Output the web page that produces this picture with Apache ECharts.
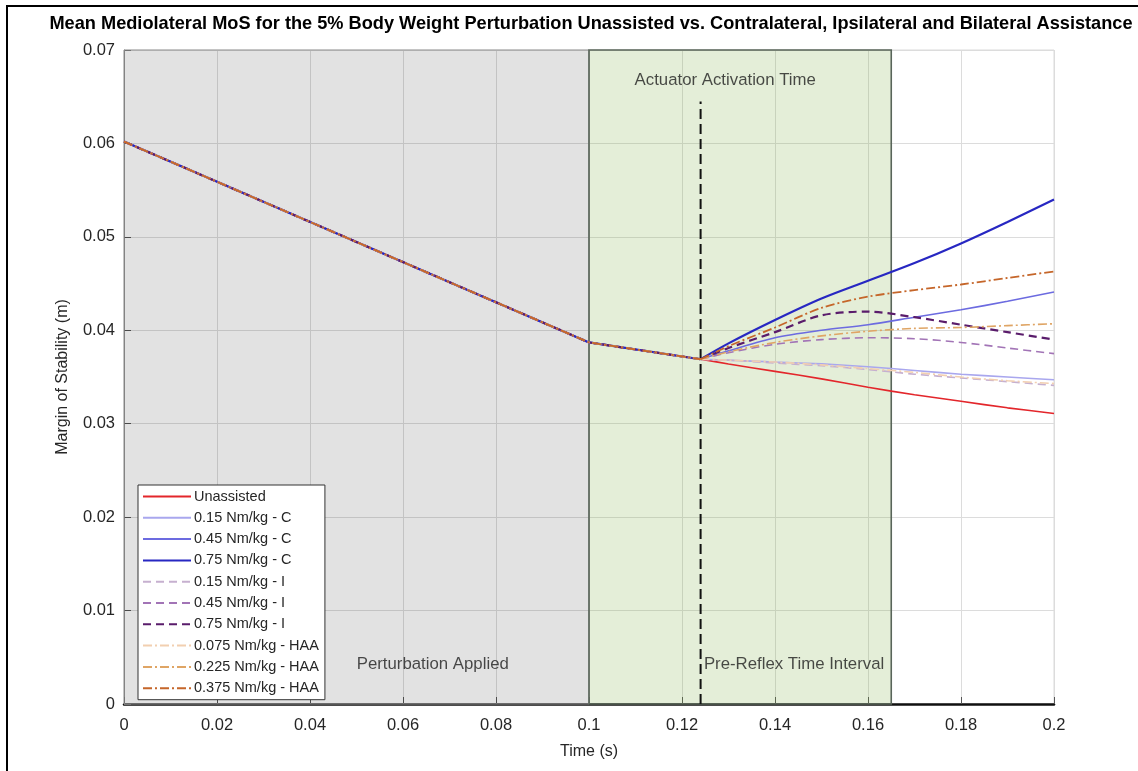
<!DOCTYPE html>
<html>
<head>
<meta charset="utf-8">
<title>Mean Mediolateral MoS</title>
<script src="https://cdn.jsdelivr.net/npm/echarts@6/dist/echarts.min.js"></script>
<style>
  html, body { margin: 0; padding: 0; background: #fff; }
  #chart { width: 1138px; height: 771px; }
</style>
</head>
<body>
<div id="chart"></div>
<script>
// Shared trajectory before the actuator switches on (s, m)
const timePrefix = [0, 0.1, 0.124];
const prefixValues = [0.0602, 0.0387, 0.0369];

// Time samples after actuator activation (s)
const timeTail = [0.124, 0.13, 0.14, 0.15, 0.16, 0.17, 0.18, 0.19, 0.2];

// Margin of stability (m) after activation, per condition
const unassisted = [0.0369, 0.0364, 0.0356, 0.0348, 0.0339, 0.0331, 0.0324, 0.0317, 0.0311];
const c015 = [0.0369, 0.0368, 0.0366, 0.0364, 0.0361, 0.0357, 0.0353, 0.0350, 0.0347];
const c045 = [0.0369, 0.0378, 0.0392, 0.0400, 0.0406, 0.0414, 0.0422, 0.0431, 0.0441];
const c075 = [0.0369, 0.0386, 0.0411, 0.0434, 0.0453, 0.0472, 0.0493, 0.0516, 0.0540];
const i015 = [0.0369, 0.0368, 0.0365, 0.0362, 0.0358, 0.0353, 0.0349, 0.0345, 0.0341];
const i045 = [0.0369, 0.0376, 0.0385, 0.0390, 0.0392, 0.0391, 0.0387, 0.0381, 0.0375];
const i075 = [0.0369, 0.0381, 0.0398, 0.0416, 0.0420, 0.0414, 0.0406, 0.0398, 0.0390];
const haa0075 = [0.0369, 0.0368, 0.0366, 0.0363, 0.0359, 0.0355, 0.0350, 0.0346, 0.0343];
const haa0225 = [0.0369, 0.0377, 0.0387, 0.0394, 0.0399, 0.0402, 0.0403, 0.0405, 0.0407];
const haa0375 = [0.0369, 0.0383, 0.0403, 0.0424, 0.0436, 0.0443, 0.0449, 0.0456, 0.0463];

// Shaded phases (s)
const perturbationPhase = [0, 0.1];
const preReflexPhase = [0.1, 0.165];
const activationTime = 0.124;

// Axis tick setup
const xTicks = { min: 0, max: 0.2, step: 0.02 };
const yTicks = { min: 0, max: 0.07, step: 0.01 };

const dashDot = [9, 3, 2, 3];
const conditions = [
  { name: 'Unassisted',          values: unassisted, color: '#e3262b', type: 'solid',  width: 1.6 },
  { name: '0.15 Nm/kg - C',      values: c015,       color: '#a9a7ee', type: 'solid',  width: 1.6 },
  { name: '0.45 Nm/kg - C',      values: c045,       color: '#6c6be0', type: 'solid',  width: 1.6 },
  { name: '0.75 Nm/kg - C',      values: c075,       color: '#2727c2', type: 'solid',  width: 2.2 },
  { name: '0.15 Nm/kg - I',      values: i015,       color: '#c6b0cf', type: [8, 5],   width: 1.6 },
  { name: '0.45 Nm/kg - I',      values: i045,       color: '#a274b6', type: [8, 5],   width: 1.6 },
  { name: '0.75 Nm/kg - I',      values: i075,       color: '#5a1c6b', type: [8, 5],   width: 2.2 },
  { name: '0.075 Nm/kg - HAA',   values: haa0075,    color: '#f2cfb0', type: dashDot,  width: 1.6 },
  { name: '0.225 Nm/kg - HAA',   values: haa0225,    color: '#dfa565', type: dashDot,  width: 1.6 },
  { name: '0.375 Nm/kg - HAA',   values: haa0375,    color: '#c5662a', type: dashDot,  width: 1.8 }
];

const pairs = (xs, ys) => xs.map((x, i) => [x, ys[i]]);
const font = 'Liberation Sans, Arial, sans-serif';

const series = [];

// Background phases and the activation marker
series.push({
  type: 'line',
  name: 'phases',
  data: [],
  silent: true,
  markArea: {
    silent: true,
    data: [
      [{ xAxis: perturbationPhase[0], yAxis: yTicks.min,
         itemStyle: { color: 'rgba(0,0,0,0.115)', borderColor: '#9a9a9a', borderWidth: 1 } },
       { xAxis: perturbationPhase[1], yAxis: yTicks.max }],
      [{ xAxis: preReflexPhase[0], yAxis: yTicks.min,
         itemStyle: { color: 'rgba(118,170,60,0.20)', borderColor: '#59655a', borderWidth: 1.6 } },
       { xAxis: preReflexPhase[1], yAxis: yTicks.max }]
    ]
  },
  z: 1
});

series.push({
  type: 'line',
  name: 'activation',
  data: [[activationTime, 0], [activationTime, 0.0645]],
  symbol: 'none',
  silent: true,
  lineStyle: { color: '#111', width: 2, type: [10, 5] },
  z: 3
});

conditions.forEach(c => {
  series.push({
    type: 'line',
    name: c.name,
    data: pairs(timePrefix, prefixValues),
    symbol: 'none',
    smooth: false,
    lineStyle: { color: c.color, width: c.width, type: c.type },
    itemStyle: { color: c.color },
    z: 4
  });
  series.push({
    type: 'line',
    name: c.name,
    data: pairs(timeTail, c.values),
    symbol: 'none',
    smooth: 0.3,
    lineStyle: { color: c.color, width: c.width, type: c.type },
    itemStyle: { color: c.color },
    z: 4
  });
});

// Phase captions
const captions = [
  [0.0664, 0.0042, 'Perturbation Applied'],
  [0.1441, 0.0042, 'Pre-Reflex Time Interval'],
  [0.1293, 0.0667, 'Actuator Activation Time']
];
series.push({
  type: 'scatter',
  name: 'captions',
  data: captions,
  symbolSize: 0,
  silent: true,
  label: {
    show: true,
    position: 'inside',
    formatter: p => p.data[2],
    color: '#1e1e1e',
    fontSize: 16.8,
    fontFamily: font
  },
  z: 5
});

const chart = echarts.init(document.getElementById('chart'));
chart.setOption({
  animation: false,
  backgroundColor: '#fff',
  title: {
    text: 'Mean Mediolateral MoS for the 5% Body Weight Perturbation Unassisted vs. Contralateral, Ipsilateral and Bilateral Assistance',
    left: 586,
    textAlign: 'center',
    top: 10,
    textStyle: { fontSize: 18.2, fontWeight: 'bold', color: '#000', fontFamily: font }
  },
  grid: {
    left: 124, right: 84, top: 50, bottom: 67,
    show: true, borderColor: '#dadada', borderWidth: 1, backgroundColor: 'transparent'
  },
  legend: {
    data: conditions.map(c => c.name),
    orient: 'vertical',
    left: 138,
    top: 485,
    itemWidth: 48,
    itemHeight: 14,
    itemGap: 6.3,
    padding: [4, 6, 4, 4],
    backgroundColor: '#fff',
    borderColor: '#333',
    borderWidth: 1,
    borderRadius: 0,
    itemStyle: { opacity: 0 },
    textStyle: { fontSize: 14.5, color: '#262626', fontFamily: font, padding: [0, 0, 0, -2] }
  },
  xAxis: {
    type: 'value',
    min: xTicks.min,
    max: xTicks.max,
    interval: xTicks.step,
    name: 'Time (s)',
    nameLocation: 'middle',
    nameGap: 40,
    nameTextStyle: { fontSize: 16, color: '#262626', fontFamily: font },
    axisLine: { lineStyle: { color: '#111', width: 2.5 } },
    axisTick: { inside: true, length: 7, lineStyle: { color: '#555' } },
    axisLabel: {
      fontSize: 16.5, color: '#262626', fontFamily: font, margin: 13,
      formatter: v => String(+v.toFixed(2))
    },
    splitLine: { show: true, lineStyle: { color: '#dcdcdc', width: 1 } }
  },
  yAxis: {
    type: 'value',
    min: yTicks.min,
    max: yTicks.max,
    interval: yTicks.step,
    name: 'Margin of Stability (m)',
    nameLocation: 'middle',
    nameGap: 53,
    nameTextStyle: { fontSize: 16, color: '#262626', fontFamily: font },
    axisLine: { show: true, lineStyle: { color: '#7a7a7a', width: 1 } },
    axisTick: { show: true, inside: true, length: 7, lineStyle: { color: '#555' } },
    axisLabel: {
      fontSize: 16.5, color: '#262626', fontFamily: font, margin: 9,
      formatter: v => String(+v.toFixed(2))
    },
    splitLine: { show: true, lineStyle: { color: '#dcdcdc', width: 1 } }
  },
  graphic: [{
    type: 'rect',
    shape: { x: 7, y: 6, width: 1160, height: 800 },
    style: { fill: 'none', stroke: '#000', lineWidth: 2 },
    silent: true,
    z: 100
  }],
  series: series
});
</script>
</body>
</html>
